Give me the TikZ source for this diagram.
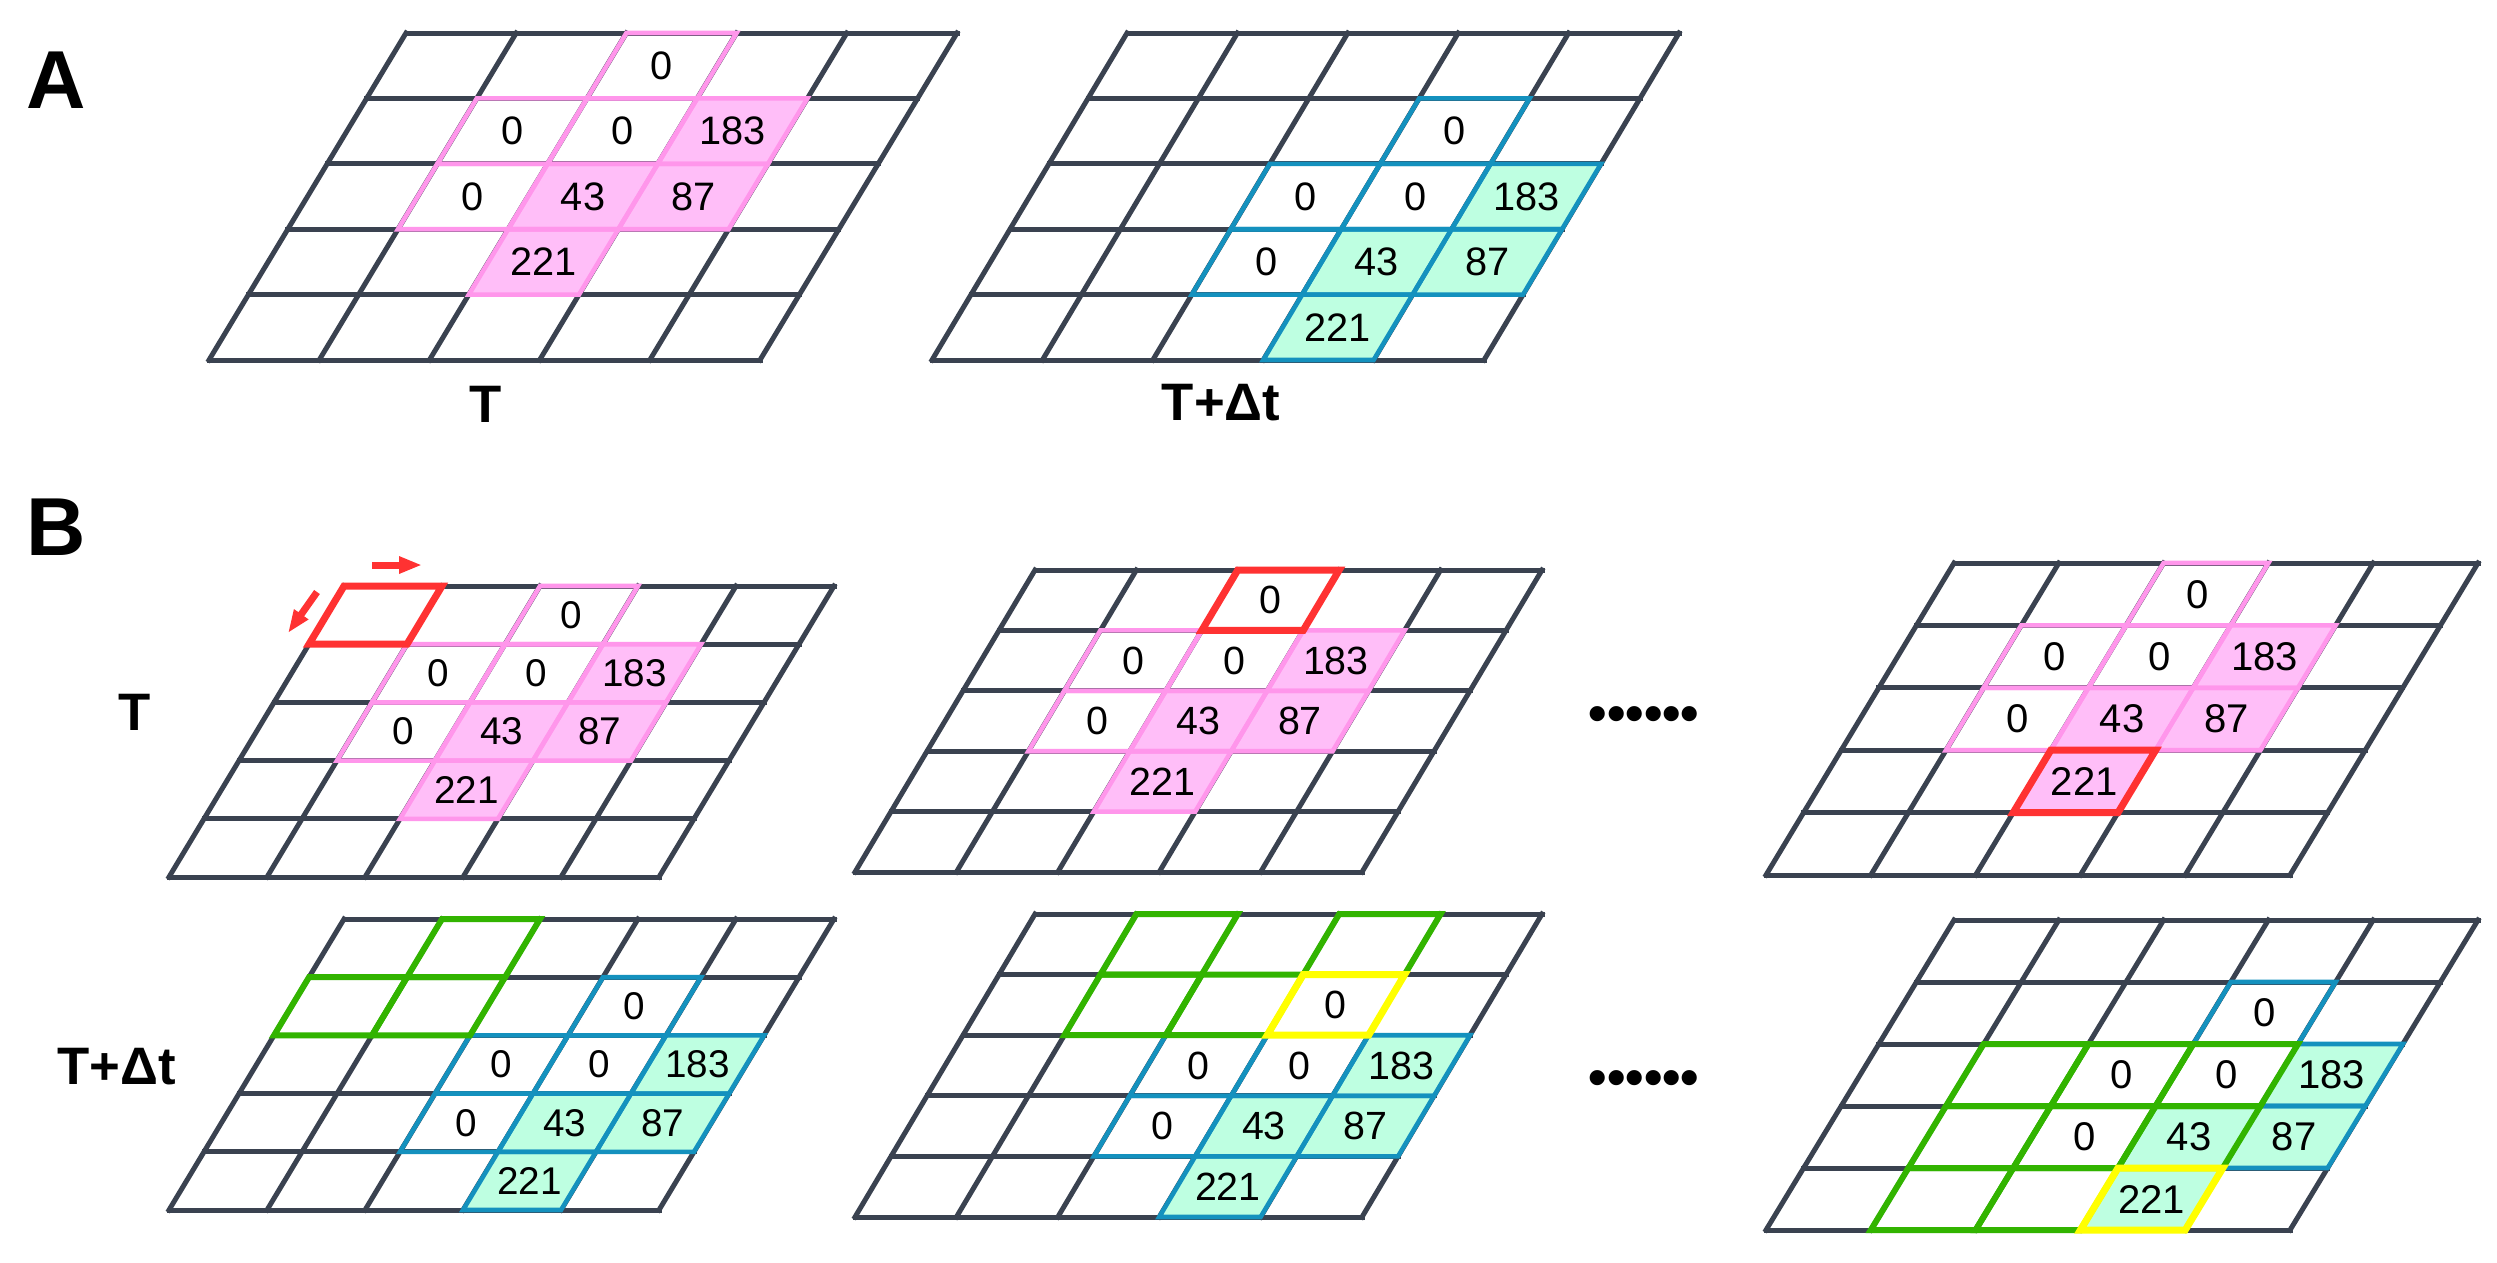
\documentclass[tikz,border=0pt]{standalone}
\usepackage{fontspec}
\setmainfont{Liberation Sans}
\usetikzlibrary{arrows.meta}
\definecolor{griddark}{RGB}{58,66,80}
\definecolor{pinkline}{RGB}{255,150,235}
\definecolor{pinkfill}{RGB}{255,190,248}
\definecolor{blueline}{RGB}{20,145,190}
\definecolor{mintfill}{RGB}{190,255,225}
\definecolor{greenline}{RGB}{50,180,0}
\definecolor{yellowline}{RGB}{255,255,0}
\definecolor{redline}{RGB}{255,50,50}
\tikzset{
  gridframe/.style n args={5}{shift={(#1,#2)}, x={(#3*0.1mm,0mm)}, y={(-#5*0.1mm,-#4*0.1mm)}},
  gridline/.style={draw=griddark, line width=1.42pt, line cap=rect},
  pinkedge/.style={draw=pinkline, line width=1.3pt, line join=miter},
  pinkbg/.style={fill=pinkfill},
  blueedge/.style={draw=blueline, line width=1.3pt, line join=miter},
  bluebg/.style={fill=mintfill},
  redcell/.style={draw=redline, line width=2pt, line join=miter},
  greencell/.style={draw=greenline, line width=1.7pt, line join=miter},
  yellowcell/.style={draw=yellowline, line width=2pt, line join=miter},
  cellnum/.style={font=\fontsize{11.3pt}{13pt}\selectfont, inner sep=0pt},
  panel/.style={font=\fontsize{23.4pt}{26pt}\selectfont\bfseries, inner sep=0pt},
  tlabel/.style={font=\fontsize{15pt}{18pt}\selectfont\bfseries, inner sep=0pt},
  dotslabel/.style={font=\fontsize{15pt}{18pt}\selectfont\bfseries, inner sep=0pt},
  redarrow/.style={draw=redline, line width=2pt, -{Triangle[length=2.3mm,width=1.6mm]}},
}
\newcommand{\cellat}[2]{({#2},{#1}) -- ++(1,0) -- ++(0,1) -- ++(-1,0) -- cycle}
\newcommand{\drawgrid}{%
  \foreach \i in {0,...,5}{\draw[gridline] (0,\i) -- (5,\i); \draw[gridline] (\i,0) -- (\i,5);}}
% #1 row shift, #2 col shift, #3 edge style, #4 fill style, #5 name prefix
\newcommand{\drawpat}[5]{%
  \foreach \r/\c in {1/3,2/2,2/3,3/2}{\fill[#4] \cellat{\r+#1}{\c+#2};}
  \foreach \r/\c in {0/2,1/1,1/2,1/3,2/1,2/2,2/3,3/2}{\draw[#3] \cellat{\r+#1}{\c+#2};}
  \foreach \r/\c/\v in {0/2/0,1/1/0,1/2/0,1/3/183,2/1/0,2/2/43,2/3/87,3/2/221}{%
    \node[cellnum] (#5-\r-\c) at ({\c+#2+0.5},{\r+#1+0.5}) {\v};}
}
\begin{document}
\begin{tikzpicture}[x=0.1mm,y=-0.1mm]
\useasboundingbox (0,0) rectangle (2497,1262);
\fill[white] (0,0) rectangle (2497,1262);

% ---------- Panel A ----------
\node[panel] (lblA) at (56,80) {A};
\begin{scope}[gridframe={406}{33}{110.2}{65.4}{39.4}]
  \drawgrid
  \drawpat{0}{0}{pinkedge}{pinkbg}{a1}
\end{scope}
\begin{scope}[gridframe={1127}{33}{110.4}{65.4}{39}]
  \drawgrid
  \drawpat{1}{1}{blueedge}{bluebg}{a2}
\end{scope}
\node[tlabel] (tA1) at (486,404) {T};
\node[tlabel] (tA2) at (1221,403) {T+Δt};

% ---------- Panel B ----------
\node[panel] (lblB) at (56,527) {B};
\node[tlabel] (tB1) at (135,712) {T};
\node[tlabel] (tB2) at (117,1067) {T+Δt};

\begin{scope}[gridframe={344}{586}{98}{58.2}{35}, cellnum/.style={font=\fontsize{11pt}{13pt}\selectfont, inner sep=0pt}]
  \drawgrid
  \drawpat{0}{0}{pinkedge}{pinkbg}{b11}
  \draw[redcell] \cellat{0}{0};
\end{scope}
\coordinate (arA1) at (372,565);
\coordinate (arA2) at (422,565);
\coordinate (arB1) at (317,592);
\coordinate (arB2) at (288,633);
\draw[redarrow] (arA1) -- (arA2);
\draw[redarrow] (arB1) -- (arB2);

\begin{scope}[gridframe={1035}{570}{101.4}{60.4}{36}, cellnum/.style={font=\fontsize{11.2pt}{13pt}\selectfont, inner sep=0pt}]
  \drawgrid
  \drawpat{0}{0}{pinkedge}{pinkbg}{b12}
  \draw[redcell] \cellat{0}{2};
\end{scope}

\begin{scope}[gridframe={1954}{563}{104.8}{62.4}{37.6}, cellnum/.style={font=\fontsize{11.4pt}{13pt}\selectfont, inner sep=0pt}]
  \drawgrid
  \drawpat{0}{0}{pinkedge}{pinkbg}{b13}
  \draw[redcell] \cellat{3}{2};
\end{scope}

\begin{scope}[gridframe={344}{919}{98}{58.2}{35}, cellnum/.style={font=\fontsize{11pt}{13pt}\selectfont, inner sep=0pt}]
  \drawgrid
  \drawpat{1}{1}{blueedge}{bluebg}{b21}
  \foreach \r/\c in {0/1,1/0,1/1}{\draw[greencell] \cellat{\r}{\c};}
\end{scope}

\begin{scope}[gridframe={1035}{914}{101.4}{60.6}{36}, cellnum/.style={font=\fontsize{11.2pt}{13pt}\selectfont, inner sep=0pt}]
  \drawgrid
  \drawpat{1}{1}{blueedge}{bluebg}{b22}
  \foreach \r/\c in {0/1,0/3,1/1,1/2}{\draw[greencell] \cellat{\r}{\c};}
  \draw[yellowcell] \cellat{1}{3};
\end{scope}

\begin{scope}[gridframe={1954}{920}{104.8}{62}{37.6}, cellnum/.style={font=\fontsize{11.4pt}{13pt}\selectfont, inner sep=0pt}]
  \drawgrid
  \drawpat{1}{1}{blueedge}{bluebg}{b23}
  \foreach \r/\c in {2/1,2/2,2/3,3/1,3/2,3/3,4/1,4/2}{\draw[greencell] \cellat{\r}{\c};}
  \draw[yellowcell] \cellat{4}{3};
\end{scope}

\node[dotslabel] (dots1) at (1644,719) {••••••};
\node[dotslabel] (dots2) at (1644,1083) {••••••};
\end{tikzpicture}
\end{document}
